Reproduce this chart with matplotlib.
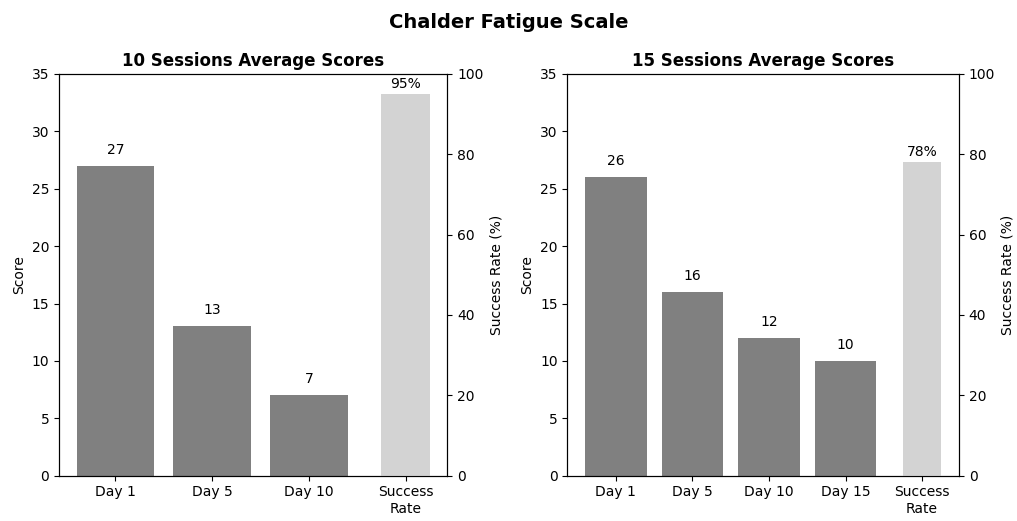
import matplotlib.pyplot as plt

# data
cats_10 = ['Day 1', 'Day 5', 'Day 10']
scores_10 = [27, 13, 7]
success_10 = 95

cats_15 = ['Day 1', 'Day 5', 'Day 10', 'Day 15']
scores_15 = [26, 16, 12, 10]
success_15 = 78

fig = plt.figure(figsize=(10.17, 5.21), dpi=100)
fig.suptitle('Chalder Fatigue Scale', fontsize=14, fontweight='bold', y=0.975)

ax1 = fig.add_axes([0.058, 0.087, 0.382, 0.771])
ax2 = fig.add_axes([0.558, 0.087, 0.385, 0.771])


def draw(ax, cats, scores, success, title):
    x = list(range(len(cats)))
    ax.bar(x, scores, width=0.8, color='gray')
    for xi, v in zip(x, scores):
        ax.text(xi, v + 0.8, str(v), ha='center', va='bottom', fontsize=10)
    ax.set_ylim(0, 35)
    ax.set_ylabel('Score')
    ax.set_title(title, fontsize=12, fontweight='bold')

    tw = ax.twinx()
    sx = len(cats)
    tw.bar(sx, success, width=0.5, color='lightgray')
    tw.text(sx, success + 0.8, f'{success}%', ha='center', va='bottom', fontsize=10)
    tw.set_ylim(0, 100)
    tw.set_ylabel('Success Rate (%)')

    ax.set_xticks(x + [sx])
    ax.set_xticklabels(cats + ['Success\nRate'])


draw(ax1, cats_10, scores_10, success_10, '10 Sessions Average Scores')
draw(ax2, cats_15, scores_15, success_15, '15 Sessions Average Scores')

fig.savefig('out.png', dpi=100)
